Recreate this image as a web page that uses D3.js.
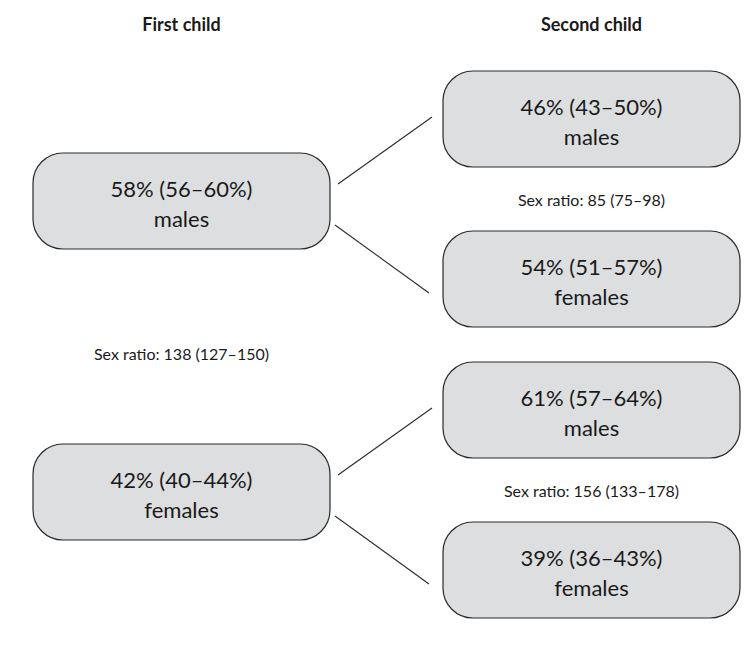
<!DOCTYPE html>
<html>
<head>
<meta charset="utf-8">
<script src="https://d3js.org/d3.v7.min.js"></script>
<style>
  body { margin: 0; background: #fff; }
  svg text { font-family: Lato, "Open Sans", sans-serif; fill: #1a1a1a; }
  .box { fill: #dddee0; stroke: #2b2b2b; stroke-width: 1.2; }
  .link { stroke: #2b2b2b; stroke-width: 1.1; }
  .head { font-weight: bold; font-size: 18px; }
  .val { font-size: 22px; }
  .ratio { font-size: 16px; }
</style>
</head>
<body>
<svg id="chart" width="756" height="659"></svg>
<script>
// column headings
var columns = ["First child", "Second child"];

// first child
var firstSex = ["males", "females"];
var firstPct = [58, 42];
var firstLo = [56, 40];
var firstHi = [60, 44];

// second child, grouped by sex of first child
var secondParent = [0, 0, 1, 1];
var secondSex = ["males", "females", "males", "females"];
var secondPct = [46, 54, 61, 39];
var secondLo = [43, 51, 57, 36];
var secondHi = [50, 57, 64, 43];

// sex ratios: first child, then second child after a male / female first child
var ratioVal = [138, 85, 156];
var ratioLo = [127, 75, 133];
var ratioHi = [150, 98, 178];

var svg = d3.select("#chart");
var boxH = 96;

var x = d3.scaleBand().domain(columns).range([33, 740]).paddingInner(0.2756).paddingOuter(0);
var y = d3.scaleLinear().domain([0, 1]).range([201, 492]); // centre of first-child boxes
var childOff = d3.scalePoint().domain(["males", "females"]).range([-82, 78]);

function label(p, lo, hi) { return p + "% (" + lo + "\u2013" + hi + "%)"; }

var first = firstSex.map(function(s, i) {
  return { sex: s, cy: y(i), x: x(columns[0]), text: label(firstPct[i], firstLo[i], firstHi[i]) };
});
var second = secondSex.map(function(s, i) {
  return { sex: s, parent: secondParent[i], cy: y(secondParent[i]) + childOff(s), x: x(columns[1]),
           text: label(secondPct[i], secondLo[i], secondHi[i]) };
});

// headings
svg.selectAll(".head").data(columns).join("text")
  .attr("class", "head")
  .attr("x", function(d) { return x(d) + x.bandwidth() / 2; })
  .attr("y", 31)
  .attr("text-anchor", "middle")
  .text(function(d) { return d; });

// connectors
svg.selectAll(".link").data(second).join("line")
  .attr("class", "link")
  .attr("x1", function(d) { return x(columns[0]) + x.bandwidth() + (d.sex === "males" ? 8 : 5); })
  .attr("y1", function(d) { return y(d.parent) + (d.sex === "males" ? -17 : 24); })
  .attr("x2", function(d) { return x(columns[1]) - (d.sex === "males" ? 11 : 14); })
  .attr("y2", function(d) { return d.cy + (d.sex === "males" ? -2 : 14); });

// boxes
var nodes = svg.selectAll(".node").data(first.concat(second)).join("g")
  .attr("class", "node")
  .attr("transform", function(d) { return "translate(" + d.x + "," + (d.cy - boxH / 2) + ")"; });

nodes.append("rect")
  .attr("class", "box")
  .attr("width", x.bandwidth())
  .attr("height", boxH)
  .attr("rx", 30).attr("ry", 30);

nodes.append("text")
  .attr("class", "val")
  .attr("x", x.bandwidth() / 2)
  .attr("y", boxH / 2 - 4)
  .attr("text-anchor", "middle")
  .text(function(d) { return d.text; });

nodes.append("text")
  .attr("class", "val")
  .attr("x", x.bandwidth() / 2)
  .attr("y", boxH / 2 + 26)
  .attr("text-anchor", "middle")
  .text(function(d) { return d.sex; });

// sex ratio labels
var ratios = [
  { cx: x(columns[0]) + x.bandwidth() / 2, cy: y(0.5) + 8 },
  { cx: x(columns[1]) + x.bandwidth() / 2, cy: y(0) },
  { cx: x(columns[1]) + x.bandwidth() / 2, cy: y(1) }
].map(function(p, i) {
  p.text = "Sex ratio: " + ratioVal[i] + " (" + ratioLo[i] + "\u2013" + ratioHi[i] + ")";
  return p;
});

svg.selectAll(".ratio").data(ratios).join("text")
  .attr("class", "ratio")
  .attr("x", function(d) { return d.cx; })
  .attr("y", function(d) { return d.cy + 5; })
  .attr("text-anchor", "middle")
  .text(function(d) { return d.text; });
</script>
</body>
</html>
